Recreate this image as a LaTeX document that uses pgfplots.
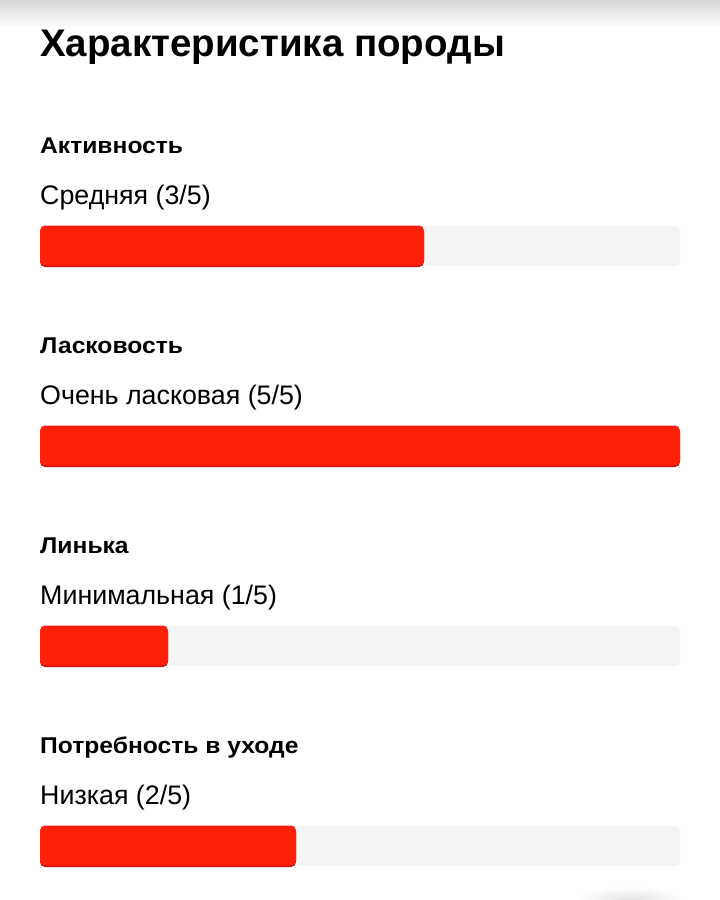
\documentclass[border=0pt]{standalone}
\usepackage{fontspec}
\setmainfont{Liberation Sans}
\newfontfamily\headfont[FakeStretch=1.08]{Liberation Sans}
\usepackage{pgfplots}
\pgfplotsset{compat=1.18}
\definecolor{barred}{HTML}{FF200A}
\definecolor{reddark}{HTML}{C8180C}
\definecolor{track}{HTML}{F4F3F6}
\begin{document}
\begin{tikzpicture}[x=1pt,y=1pt]
\useasboundingbox (0,0) rectangle (720,900);
\fill[white] (0,0) rectangle (720,900);
\shade[top color=black!16, bottom color=white] (0,900) rectangle (720,872);
\shade[inner color=black!12, outer color=white] (630,-2) ellipse [x radius=55, y radius=16];
\begin{axis}[at={(40pt,900pt)}, anchor=north west, scale only axis,
  width=640pt, height=900pt, xmin=0, xmax=5, ymin=0, ymax=900, y dir=reverse,
  axis lines=none, xbar, bar width=40pt, clip=false]
\addplot[fill=track, draw=none, rounded corners=5pt, bar shift=0pt] coordinates {(5,246) (5,446) (5,646) (5,846)};
\addplot[fill=reddark, draw=none, rounded corners=5pt, bar shift=0pt] coordinates {(3,247) (5,447) (1,647) (2,847)};
\addplot[fill=barred, draw=none, rounded corners=5pt, bar shift=0pt] coordinates {(3,245.5) (5,445.5) (1,645.5) (2,845.5)};
\node[anchor=base west, inner sep=0pt, font=\fontsize{38.5}{42}\selectfont\bfseries] at (axis cs:0,56) {Характеристика породы};
\node[anchor=base west, inner sep=0pt, font=\headfont\fontsize{22.8}{24}\selectfont\bfseries] at (axis cs:0,153) {Активность};
\node[anchor=base west, inner sep=0pt, font=\fontsize{26.8}{30}\selectfont] at (axis cs:0,204) {Средняя (3/5)};
\node[anchor=base west, inner sep=0pt, font=\headfont\fontsize{22.8}{24}\selectfont\bfseries] at (axis cs:0,353) {Ласковость};
\node[anchor=base west, inner sep=0pt, font=\fontsize{26.8}{30}\selectfont] at (axis cs:0,404) {Очень ласковая (5/5)};
\node[anchor=base west, inner sep=0pt, font=\headfont\fontsize{22.8}{24}\selectfont\bfseries] at (axis cs:0,553) {Линька};
\node[anchor=base west, inner sep=0pt, font=\fontsize{26.8}{30}\selectfont] at (axis cs:0,604) {Минимальная (1/5)};
\node[anchor=base west, inner sep=0pt, font=\headfont\fontsize{22.8}{24}\selectfont\bfseries] at (axis cs:0,753) {Потребность в уходе};
\node[anchor=base west, inner sep=0pt, font=\fontsize{26.8}{30}\selectfont] at (axis cs:0,804) {Низкая (2/5)};
\end{axis}
\end{tikzpicture}
\end{document}
